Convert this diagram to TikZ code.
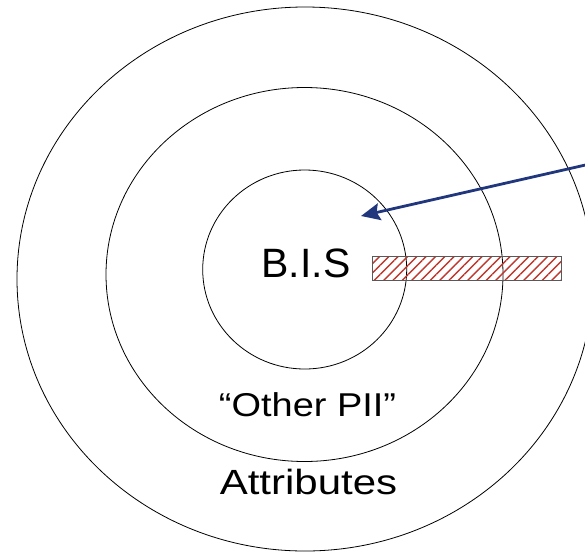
\documentclass[tikz,border=0pt]{standalone}
\usepackage{fontspec}
\usepackage{graphicx}
\setmainfont{Liberation Sans}
\usetikzlibrary{arrows.meta, shapes.geometric, patterns.meta}

\definecolor{arrowblue}{RGB}{33,55,125}
\definecolor{hatchred}{RGB}{190,55,45}

\begin{document}
\begin{tikzpicture}[
    x=1pt, y=-1pt,
    ring/.style={
        draw,
        ellipse,
        inner sep=0pt,
        line width=0.8pt
    },
    tag/.style={anchor=base, inner sep=0pt},
    hatchbar/.style={
        draw=black!65,
        line width=1.5pt,
        inner sep=0pt,
        anchor=north west,
        pattern={Lines[angle=45, distance=6.6pt, line width=1.4pt]},
        pattern color=hatchred
    },
    arrow/.style={-{Stealth[length=19pt, width=17pt, inset=3pt]}, line width=2.8pt, draw=arrowblue}
]
\useasboundingbox (0,0) rectangle (585,552);

% ------------------------
% Rings
% ------------------------
\node[ring, minimum width=576pt, minimum height=544pt] (outer) at (305,279) {};
\node[ring, minimum width=397pt, minimum height=374pt] (middle) at (304.5,274.5) {};
\node[ring, minimum width=204pt, minimum height=199pt] (inner) at (304.7,269.5) {};

% ------------------------
% Hatched bar
% ------------------------
\node[hatchbar, minimum width=189pt, minimum height=24pt] (bar) at (372,256) {};

% ------------------------
% Ring labels
% ------------------------
\node[tag, font=\fontsize{41}{49}\selectfont] (bis) at (306,277) {B.I.S};
\node[tag, font=\fontsize{33}{40}\selectfont] (pii) at (307.5,416.7) {\scalebox{1.15}[1]{“Other PII”}};
\node[tag, font=\fontsize{35}{42}\selectfont] (attr) at (308.5,494) {\scalebox{1.2}[1]{Attributes}};

% ------------------------
% Arrow
% ------------------------
\coordinate (src) at (592,163.5);
\coordinate (tip) at (361,216);
\draw[arrow] (src) -- (tip);

\end{tikzpicture}
\end{document}
